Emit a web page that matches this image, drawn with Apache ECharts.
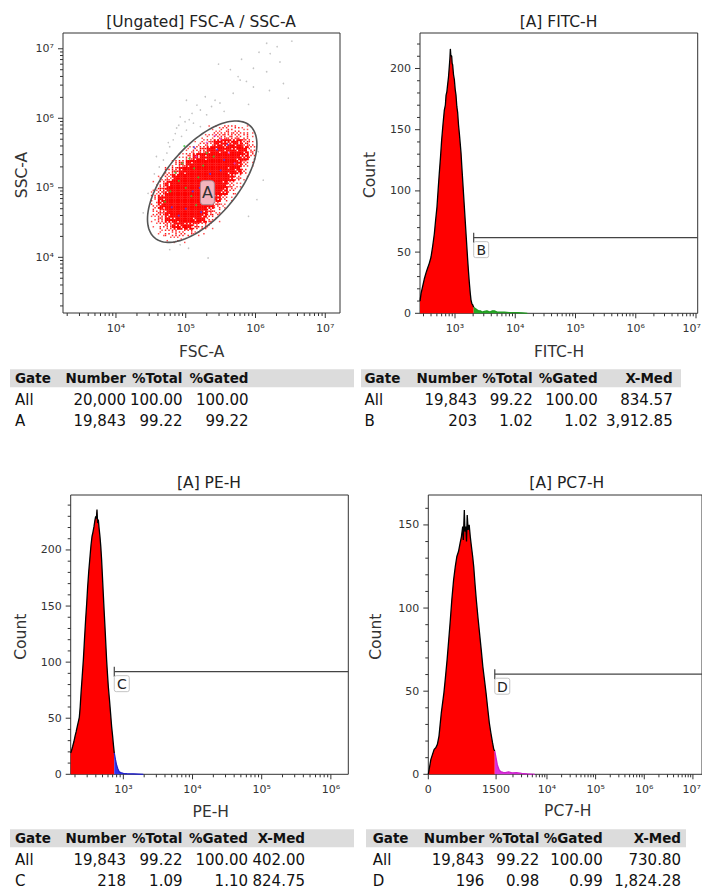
<!DOCTYPE html>
<html><head><meta charset="utf-8">
<script src="https://cdn.jsdelivr.net/npm/echarts@6.0.0/dist/echarts.min.js"></script>
<style>html,body{margin:0;padding:0;background:#fff}#c{width:702px;height:890px}</style>
</head><body><div id="c"></div>
<script>
const FONT = 'DejaVu Sans';

// ---------------- DATA ----------------
const supLabels = {3:'10³', 4:'10⁴', 5:'10⁵', 6:'10⁶', 7:'10⁷'};

// Scatter FSC-A / SSC-A (log10 units)
const scatterXTicks = [4, 5, 6, 7];
const scatterYTicks = [4, 5, 6, 7];
const cloudX0 = 4.5, cloudY0 = 5.9, cloudStep = 0.1;
const cloudRows = [
  "000000001233320",
  "000000012455541",
  "000000135777763",
  "000002468888874",
  "000025789999873",
  "000368999999851",
  "003689999998730",
  "025899999997510",
  "147999999985200",
  "268999999973100",
  "379999999741000",
  "379999997520000",
  "368999986300000",
  "257899874100000",
  "135777642000000",
  "023443210000000",
  "001210000000000"
];
const outlierPts = [[6.52,7.11],[6.16,7.08],[6.31,7.03],[6.21,6.93],[6.35,6.81],[5.47,6.78],[5.64,6.70],[5.97,6.72],[5.75,6.60],[5.87,6.53],[5.78,6.55],[6.16,6.67],[6.40,6.50],[5.97,6.45],[5.68,6.36],[6.47,6.29],[5.28,6.31],[5.42,6.26],[5.49,6.22],[5.37,6.17],[5.21,6.12],[5.09,6.07],[5.01,6.26],[5.16,6.19],[4.92,6.02],[4.99,5.95],[5.11,5.93],[5.21,5.88],[4.87,5.86],[5.01,5.83],[4.94,5.74],[4.82,5.69],[4.77,5.59],[4.73,5.50],[4.68,5.40],[4.58,5.45],[4.46,4.92],[4.39,4.64],[4.77,4.11],[5.04,4.13],[5.32,3.99],[4.92,4.18],[6.04,5.52],[6.11,5.11],[6.02,4.83],[5.90,4.59],[4.85,5.78],[4.75,5.65],[4.90,5.90],[5.05,5.98],[4.62,5.30],[4.55,5.20],[5.30,6.05],[5.55,6.10],[5.90,6.20],[6.20,6.40],[5.80,6.85],[6.05,6.95]];
const greenPts = [[4.95,5.35],[5.05,5.42],[5.12,5.28],[4.90,5.10],[5.00,5.00],[5.18,5.15],[4.85,5.22],[5.30,5.50],[5.08,4.88],[4.78,4.95],[5.25,5.32],[4.98,5.60],[5.40,5.45],[4.70,4.80],[5.15,4.75]];
const bluePts = [[5.20,5.00],[5.35,5.20],[5.45,5.55],[5.10,4.95],[5.55,5.40],[5.00,4.70],[5.28,4.85],[5.60,5.62],[4.90,4.60],[5.38,5.05],[5.12,5.58],[5.50,5.25],[4.80,4.72],[5.22,4.65]];
const magentaPts = [[5.50,5.70],[5.62,5.50],[5.30,5.65],[5.70,5.35],[5.42,5.75],[5.15,5.45]];
const gateA = {cx:5.236, cy:5.088, a:1.057, b:0.511, angle:50, label:'A', lx:5.31, ly:4.93};

// FITC-H histogram (x in log10 units)
const fitcX = [2.419,2.436,2.463,2.49,2.519,2.546,2.574,2.602,2.63,2.657,2.68,2.701,2.72,2.74,2.76,2.779,2.8,2.823,2.84,2.851,2.865,2.878,2.892,2.906,2.915,2.923,2.93,2.945,2.953,2.961,2.975,2.989,3.003,3.017,3.03,3.044,3.058,3.072,3.086,3.1,3.113,3.127,3.141,3.155,3.169,3.183,3.197,3.21,3.224,3.238,3.252,3.265,3.279,3.293,3.31];
const fitcY = [10,16,22,28,33,37,41,46,55,65,77,87,101,115,128,142,154,166,170,178,181,187,193,202,208,216,211,210,204,203,195,191,183,178,169,164,154,147,139,131,120,109,98,87,76,65,54,44,34,25,17,11,8,7,5];
const fitcTailX = [3.31,3.335,3.36,3.39,3.42,3.45,3.487,3.53,3.58,3.62,3.653,3.7,3.75,3.819,3.9,3.97,4.04,4.12,4.2];
const fitcTailY = [5,4,3,2,2,1,1.5,2,1,2,2,1,1,1,0.5,0.5,0.5,0.3,0];
const fitcXTicks = [3, 4, 5, 6, 7];
const fitcYTicks = [0, 50, 100, 150, 200];
const gateB = {x:3.31, y:61.8, label:'B'};

// PE-H histogram (x in log10 units)
const peX = [2.239,2.25,2.268,2.285,2.302,2.318,2.335,2.35,2.364,2.376,2.388,2.405,2.422,2.438,2.455,2.47,2.484,2.5,2.518,2.532,2.547,2.561,2.576,2.588,2.6,2.61,2.619,2.628,2.638,2.65,2.662,2.674,2.686,2.698,2.71,2.722,2.734,2.746,2.758,2.77,2.783,2.8,2.816,2.83,2.845,2.857,2.869];
const peY = [19,21,25,29,34,38,43,47,51,60,72,87,102,120,138,152,167,181,194,204,212,216,221,226,230,228,236,224,227,219,212,203,191,176,161,146,132,117,102,90,78,66,54,43,34,26,19];
const peTailX = [2.869,2.886,2.903,2.92,2.937,2.96,3.0,3.05,3.144,3.289];
const peTailY = [19,13,8,5,2.4,1.5,0.9,0.6,0.4,0];
const peXTicks = [3, 4, 5, 6];
const peYTicks = [0, 50, 100, 150, 200];
const gateC = {x:2.869, y:91.5, label:'C'};

// PC7-H histogram (x in display channels, biexponential scale)
const pcX = [0,9.7,21.9,28,34,40,48.7,58.4,64,70.4,76,82.5,88,94.7,101,106.8,113,119,124,128.7,131,134.8,137,140.8,143,145.6,149,152.9,157,161.4,166,169.9,175,179.6,186,191.7,198,203.9,210,216,222,228.2,234,240.3,245,248.7];
const pcY = [0,9,15,16,18,23,37,49,58,69,80,93,105,117,125,131,134,139,143,149,141,159,146,149,140,156,147,150,143,137,131,125,114,105,94,85,75,65,57,49,40,31,25,19,15,14];
const pcTailX = [248.7,258.3,264,270.4,280,288.6,300,312.9,330,349.3,370,398];
const pcTailY = [14,5.6,3,1.6,1.2,1,1.4,0.8,1,0.6,0.3,0];
const pcXTickPos = [0, 253.6, 444, 626, 808, 990];
const pcXTickLabels = ['0', '1500', '10⁴', '10⁵', '10⁶', '10⁷'];
const pcYTicks = [0, 50, 100, 150];
const gateD = {x:248.7, y:60.2, label:'D'};

// Titles / axis names
const panelTitles = ['[Ungated] FSC-A / SSC-A', '[A] FITC-H', '[A] PE-H', '[A] PC7-H'];
const xNames = ['FSC-A', 'FITC-H', 'PE-H', 'PC7-H'];
const yNames = ['SSC-A', 'Count', 'Count', 'Count'];

// Statistic tables
const hdr4 = ['Gate', 'Number', '%Total', '%Gated'];
const hdr5 = ['Gate', 'Number', '%Total', '%Gated', 'X-Med'];
const rowsA = [['All','20,000','100.00','100.00'], ['A','19,843','99.22','99.22']];
const rowsB = [['All','19,843','99.22','100.00','834.57'], ['B','203','1.02','1.02','3,912.85']];
const rowsC = [['All','19,843','99.22','100.00','402.00'], ['C','218','1.09','1.10','824.75']];
const rowsD = [['All','19,843','99.22','100.00','730.80'], ['D','196','0.98','0.99','1,824.28']];

// ---------------- LAYOUT ----------------
const panels = [
  {left:63, top:33, width:277, height:280, xMin:3.241, xMax:7.211, yMin:3.199, yMax:7.227},
  {left:420, top:33, width:277.7, height:280.3, xMin:2.419, xMax:7.028, yMin:0, yMax:229},
  {left:70.7, top:495, width:277.6, height:279.3, xMin:2.239, xMax:6.252, yMin:0, yMax:249},
  {left:428.3, top:495, width:281.5, height:279.3, xMin:0, xMax:1024, yMin:0, yMax:168}
];
const titlePos = [[201,21.7],[558.5,21.7],[209,483.3],[566.8,483.3]];
const xNamePos = [[201.7,351.7],[559,351.7],[210.8,811.7],[567.7,810.5]];
const yNamePos = [[21.7,175],[370,175],[20.7,636.7],[376,636.7]];

function logMinor(min, max) {
  const out = [];
  for (let n = Math.floor(min); n <= Math.ceil(max); n++)
    for (let k = 2; k <= 9; k++) { const v = n + Math.log10(k); if (v > min && v < max) out.push(v); }
  return out;
}
function linMinor(min, max, step, major) {
  const out = [];
  for (let v = min; v < max; v += step) if (Math.round(v) % major !== 0) out.push(v);
  return out;
}

function tickSeries(gi, dir, ticks) {
  const P = panels[gi];
  return {
    type:'custom', xAxisIndex:gi, yAxisIndex:gi, silent:true, z:6, clip:false,
    data: ticks.map(t => dir === 'x' ? [t.v, P.yMin] : [P.xMin, t.v]),
    renderItem(params, api) {
      const t = ticks[params.dataIndex];
      const p = api.coord([api.value(0), api.value(1)]);
      const ch = [];
      if (dir === 'x') {
        ch.push({type:'line', shape:{x1:p[0], y1:p[1], x2:p[0], y2:p[1] + t.len}, style:{stroke:'#333', lineWidth:1}});
        if (t.label) {
          const edge = p[0] > 690;
          ch.push({type:'text', x: edge ? 701 : p[0], y:p[1] + 15, style:{text:t.label, fill:'#333', fontSize:11, fontFamily:FONT, align: edge ? 'right' : 'center', verticalAlign:'middle'}});
        }
      } else {
        ch.push({type:'line', shape:{x1:p[0] - t.len, y1:p[1], x2:p[0], y2:p[1]}, style:{stroke:'#333', lineWidth:1}});
        if (t.label) ch.push({type:'text', x:p[0] - 9, y:p[1], style:{text:t.label, fill:'#333', fontSize:11, fontFamily:FONT, align:'right', verticalAlign:'middle'}});
      }
      return {type:'group', children:ch};
    }
  };
}
function majors(vals, labels) { return vals.map((v, i) => ({v, len:5, label: labels ? labels[i] : String(v)})); }
function minors(vals) { return vals.map(v => ({v, len:3, label:''})); }

function histSeries(gi, xs, ys, fill, stroke, z) {
  return {type:'line', xAxisIndex:gi, yAxisIndex:gi, silent:true, symbol:'none', z:z, clip:true,
    data: xs.map((x, i) => [x, ys[i]]),
    lineStyle:{color:stroke, width:1.3}, areaStyle:{color:fill, opacity:1}};
}

function gateSeries(gi, g) {
  const P = panels[gi];
  return {type:'custom', xAxisIndex:gi, yAxisIndex:gi, silent:true, z:7, clip:false,
    data:[[g.x, g.y]],
    renderItem(params, api) {
      const p = api.coord([api.value(0), api.value(1)]);
      const e = api.coord([P.xMax, api.value(1)]);
      return {type:'group', children:[
        {type:'line', shape:{x1:p[0], y1:p[1] - 5, x2:p[0], y2:p[1] + 5}, style:{stroke:'#444', lineWidth:1.2}},
        {type:'line', shape:{x1:p[0], y1:p[1], x2:e[0], y2:e[1]}, style:{stroke:'#444', lineWidth:1.2}},
        {type:'rect', shape:{x:p[0], y:p[1] + 4, width:15, height:16, r:2}, style:{fill:'rgba(255,255,255,0.92)', stroke:'#c4c4c4', lineWidth:1}},
        {type:'text', x:p[0] + 7.5, y:p[1] + 12.5, style:{text:g.label, fill:'#222', fontSize:14, fontFamily:FONT, align:'center', verticalAlign:'middle'}}
      ]};
    }};
}

// cloud cells from rows
const cloudCells = [];
cloudRows.forEach((row, r) => {
  for (let c = 0; c < row.length; c++) {
    const lv = +row[c];
    if (lv > 0) cloudCells.push([cloudX0 + (c + 0.5) * cloudStep, cloudY0 - (r + 0.5) * cloudStep, lv, r, c]);
  }
});
const BAYER = [0,8,2,10,12,4,14,6,3,11,1,9,15,7,13,5];

const series = [];
// Scatter panel
series.push({type:'scatter', xAxisIndex:0, yAxisIndex:0, silent:true, symbolSize:1.6, z:1, data:outlierPts, itemStyle:{color:'#b4b4b4'}});
series.push({type:'custom', xAxisIndex:0, yAxisIndex:0, silent:true, z:2, data:cloudCells,
  renderItem(params, api) {
    const x = api.value(0), y = api.value(1), lv = api.value(2);
    const shift = (api.value(3) * 5 + api.value(4) * 3) % 16;
    const h = cloudStep / 2;
    const tl = api.coord([x - h, y + h]), br = api.coord([x + h, y - h]);
    const w = (br[0] - tl[0]) / 4, hh = (br[1] - tl[1]) / 4;
    const n = Math.round(lv * 16 / 9);
    const sz = lv >= 7 ? 1.15 : 0.85;
    const col = lv >= 6 ? '#ff0000' : (lv >= 3 ? '#ff2020' : '#ff5050');
    const ch = [];
    for (let j = 0; j < 4; j++) for (let i = 0; i < 4; i++)
      if ((BAYER[j * 4 + i] + shift) % 16 < n) ch.push({type:'rect', shape:{x:tl[0] + i * w, y:tl[1] + j * hh, width:w * sz, height:hh * sz}, style:{fill:col}});
    return {type:'group', children:ch};
  }});
series.push({type:'scatter', xAxisIndex:0, yAxisIndex:0, silent:true, symbolSize:2, z:3, data:greenPts, itemStyle:{color:'#33cc33'}});
series.push({type:'scatter', xAxisIndex:0, yAxisIndex:0, silent:true, symbolSize:2, z:3, data:bluePts, itemStyle:{color:'#4040ff'}});
series.push({type:'scatter', xAxisIndex:0, yAxisIndex:0, silent:true, symbolSize:2, z:3, data:magentaPts, itemStyle:{color:'#dd44dd'}});
series.push({type:'custom', xAxisIndex:0, yAxisIndex:0, silent:true, z:4, clip:false, data:[[gateA.cx, gateA.cy, gateA.lx, gateA.ly]],
  renderItem(params, api) {
    const cx = api.value(0), cy = api.value(1);
    const th = gateA.angle * Math.PI / 180;
    const pts = [];
    for (let k = 0; k <= 120; k++) {
      const t = k / 120 * Math.PI * 2;
      const du = gateA.a * Math.cos(t), dv = gateA.b * Math.sin(t);
      pts.push(api.coord([cx + du * Math.cos(th) - dv * Math.sin(th), cy + du * Math.sin(th) + dv * Math.cos(th)]));
    }
    const lp = api.coord([api.value(2), api.value(3)]);
    return {type:'group', children:[
      {type:'polyline', shape:{points:pts}, style:{stroke:'#555', lineWidth:1.6, fill:null}},
      {type:'rect', shape:{x:lp[0] - 7, y:lp[1] - 12, width:14, height:24, r:3}, style:{fill:'#f4b4be', stroke:'#a88890', lineWidth:1}},
      {type:'text', x:lp[0], y:lp[1], style:{text:gateA.label, fill:'#333', fontSize:16, fontFamily:FONT, align:'center', verticalAlign:'middle'}}
    ]};
  }});
series.push(tickSeries(0, 'x', majors(scatterXTicks, scatterXTicks.map(v => supLabels[v])).concat(minors(logMinor(panels[0].xMin, panels[0].xMax)))));
series.push(tickSeries(0, 'y', majors(scatterYTicks, scatterYTicks.map(v => supLabels[v])).concat(minors(logMinor(panels[0].yMin, panels[0].yMax)))));

// FITC
series.push(histSeries(1, fitcX, fitcY, '#ff0000', '#000', 2));
series.push(histSeries(1, fitcTailX, fitcTailY, '#22aa22', '#229922', 2));
series.push(tickSeries(1, 'x', majors(fitcXTicks, fitcXTicks.map(v => supLabels[v])).concat(minors(logMinor(panels[1].xMin, panels[1].xMax)))));
series.push(tickSeries(1, 'y', majors(fitcYTicks).concat(minors(linMinor(0, panels[1].yMax, 10, 50)))));
series.push(gateSeries(1, gateB));

// PE
series.push(histSeries(2, peX, peY, '#ff0000', '#000', 2));
series.push(histSeries(2, peTailX, peTailY, '#3333ee', '#2222cc', 2));
series.push(tickSeries(2, 'x', majors(peXTicks, peXTicks.map(v => supLabels[v])).concat(minors(logMinor(panels[2].xMin, panels[2].xMax)))));
series.push(tickSeries(2, 'y', majors(peYTicks).concat(minors(linMinor(0, panels[2].yMax, 10, 50)))));
series.push(gateSeries(2, gateC));

// PC7
const pcMinor = [];
for (let v = 2000; v <= 9000; v += 1000) pcMinor.push(444 - 182 * Math.log10(10000 / v));
[444, 626, 808, 990].forEach(b => { for (let k = 2; k <= 9; k++) { const p = b + 182 * Math.log10(k); if (p < 1024) pcMinor.push(p); } });
series.push(histSeries(3, pcX, pcY, '#ff0000', '#000', 2));
series.push(histSeries(3, pcTailX, pcTailY, '#dd33dd', '#cc22cc', 2));
series.push(tickSeries(3, 'x', majors(pcXTickPos, pcXTickLabels).concat(minors(pcMinor))));
series.push(tickSeries(3, 'y', majors(pcYTicks).concat(minors(linMinor(0, panels[3].yMax, 10, 50)))));
series.push(gateSeries(3, gateD));

// graphic: titles, axis names, tables
const graphic = [];
function txt(x, y, text, opt) {
  graphic.push(Object.assign({type:'text', x, y, silent:true, style:Object.assign({text, fill:'#222', fontSize:15.5, fontFamily:FONT, align:'center', verticalAlign:'middle'}, opt && opt.style)}, opt && opt.el));
}
panelTitles.forEach((t, i) => txt(titlePos[i][0], titlePos[i][1], t));
xNames.forEach((t, i) => txt(xNamePos[i][0], xNamePos[i][1], t, {style:{fill:'#333'}}));
yNames.forEach((t, i) => txt(yNamePos[i][0], yNamePos[i][1], t, {style:{fill:'#333'}, el:{rotation:Math.PI / 2}}));

function table(cfg, headers, rows) {
  graphic.push({type:'rect', silent:true, shape:{x:cfg.barX, y:cfg.barY, width:cfg.barW, height:18}, style:{fill:'#dcdcdc'}});
  const ys = [cfg.barY + 9, cfg.barY + 30.7, cfg.barY + 51.7];
  [headers].concat(rows).forEach((row, r) => {
    row.forEach((cell, c) => {
      const left = c === 0;
      graphic.push({type:'text', silent:true, x: left ? cfg.gateX : cfg.rights[c - 1], y: ys[r],
        style:{text:cell, fill:'#111', fontSize: r === 0 ? 13.5 : 15, fontWeight: r === 0 ? 'bold' : 'normal', fontFamily:FONT, align: left ? 'left' : 'right', verticalAlign:'middle'}});
    });
  });
}
table({barX:10, barY:369.3, barW:344, gateX:15, rights:[126, 182.5, 248.5]}, hdr4, rowsA);
table({barX:361, barY:369.3, barW:320, gateX:364.5, rights:[477, 532.7, 597.7, 672.7]}, hdr5, rowsB);
table({barX:10, barY:829.3, barW:344, gateX:15, rights:[126, 182.5, 248, 305]}, hdr5, rowsC);
table({barX:366, barY:829.3, barW:320, gateX:372.7, rights:[484.3, 539.3, 602.7, 681]}, hdr5, rowsD);

const chart = echarts.init(document.getElementById('c'), null, {renderer:'svg', width:702, height:890});
chart.setOption({
  animation:false,
  backgroundColor:'#fff',
  grid: panels.map(p => ({left:p.left, top:p.top, width:p.width, height:p.height, show:true, borderColor:'#333', borderWidth:1, backgroundColor:'transparent', containLabel:false})),
  xAxis: panels.map((p, i) => ({type:'value', gridIndex:i, min:p.xMin, max:p.xMax, show:false})),
  yAxis: panels.map((p, i) => ({type:'value', gridIndex:i, min:p.yMin, max:p.yMax, show:false})),
  series,
  graphic
});
</script></body></html>
